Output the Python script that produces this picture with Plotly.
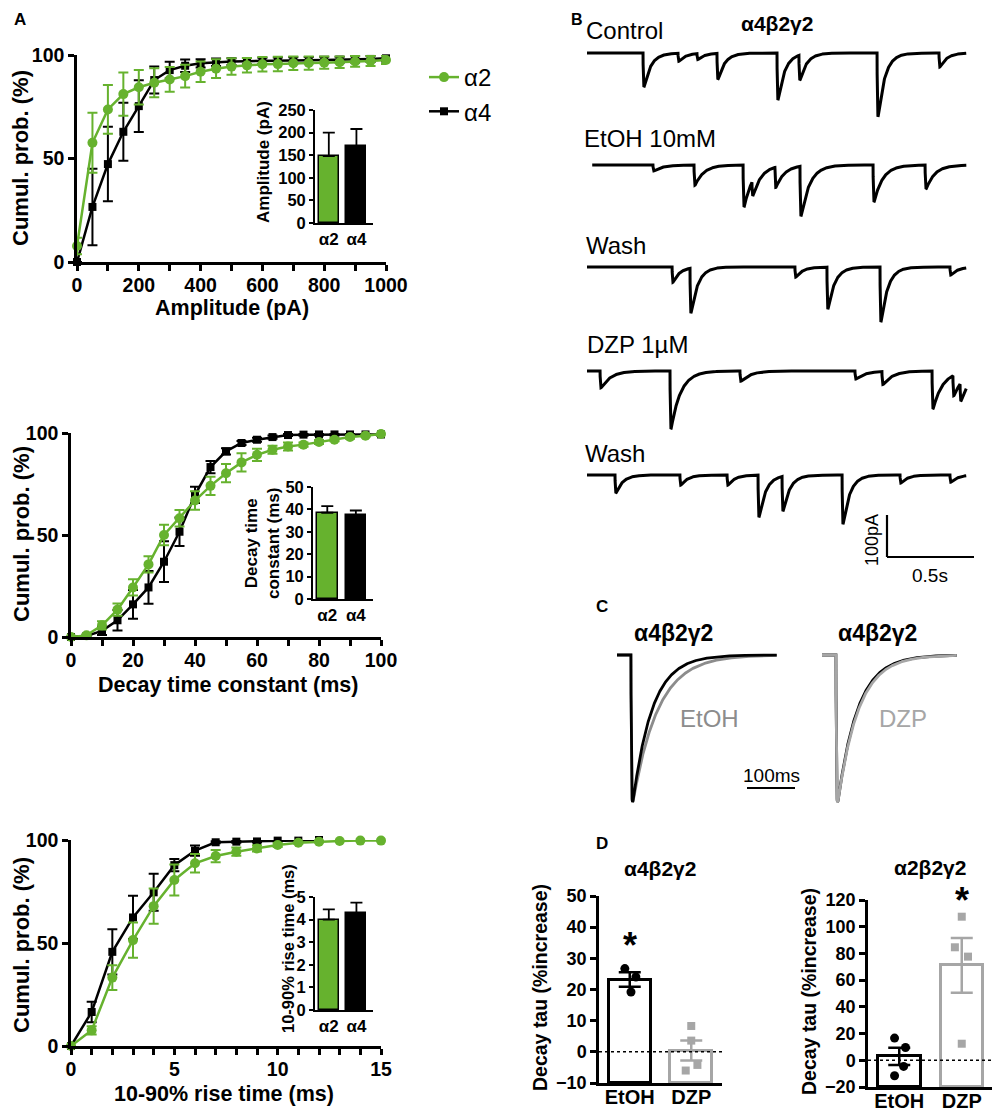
import numpy as np
import plotly.graph_objects as go

W, H = 1000, 1115
SHIFT = 8  # page body offset of the figure
GREEN = "#66b22e"
GRAY_E = "#8c8c8c"
GRAY_D = "#a6a6a6"
FONT = "Liberation Sans"

def px(x):
    return (x - SHIFT) / W

def py(y):
    return 1 - (y - SHIFT) / H

# ---------------- Panel A data ----------------
amp_x = list(range(0, 1001, 50))
amp_a2 = [7.7, 57.6, 73.7, 81.1, 84.4, 86.6, 88.2, 89.8, 91.9, 93.4, 94.4, 95.0, 95.5, 95.6, 96.0, 96.1, 96.3, 96.5, 96.9, 97.1, 97.6]
amp_a2_err = [4, 14.5, 11.8, 10.5, 8.3, 7, 6, 5.5, 5, 4.5, 4, 3.5, 3.5, 3.5, 3.3, 3.2, 3, 2.8, 2.6, 2.4, 2]
amp_a4 = [0, 26.6, 47.3, 62.9, 75.3, 87.9, 92.7, 94.8, 96.0, 96.5, 96.8, 97.0, 97.2, 97.3, 97.4, 97.5, 97.6, 97.7, 97.9, 98.1, 98.4]
amp_a4_err = [0, 18.5, 18, 14, 12.5, 6.5, 4, 3, 2, 1.8, 1.6, 1.5, 1.5, 1.5, 1.5, 1.5, 1.5, 1.5, 1.5, 1.5, 1.5]

dec_x = list(range(0, 101, 5))
dec_a2 = [0, 0.8, 5.7, 13.4, 24.3, 35.6, 50, 58.2, 66.9, 74.1, 80.3, 85.6, 89.3, 91.8, 93.4, 94.3, 95.6, 96.7, 98.0, 98.7, 99.5]
dec_a2_err = [0, 0.5, 2, 3, 4, 4, 5, 4, 4.5, 4.5, 4.5, 4.5, 3, 2, 2, 1, 1, 0.8, 0.8, 0.5, 0.5]
dec_a4 = [0, 0.5, 3, 8.2, 16, 24.3, 36.9, 51.6, 69.7, 83.3, 91, 95.1, 96.7, 98, 99, 99.2, 99.3, 99.3, 99.3, 99.3, 99.3]
dec_a4_err = [0, 0.3, 2, 5, 7, 8, 10, 7, 4, 3, 1.5, 1, 1, 0.8, 0.5, 0.5, 0.5, 0.5, 0.5, 0.5, 0.5]

rise_x_a2 = list(range(0, 16))
rise_a2 = [0, 7.6, 33.2, 51.4, 67.9, 80.6, 88.7, 92.2, 94.3, 95.9, 97.6, 98.7, 99.2, 99.5, 99.7, 99.7]
rise_a2_err = [0, 2, 6, 8.5, 8.5, 7.5, 4.5, 3, 2, 1.5, 1, 0.5, 0.3, 0, 0, 0]
rise_x_a4 = list(range(0, 13))
rise_a4 = [0, 16.5, 45.7, 62.4, 74.6, 87.8, 94.8, 98.9, 99.2, 99.3, 99.7, 99.7, 100]
rise_a4_err = [0, 5, 11, 10.5, 9, 3, 2.5, 0.5, 0.5, 0.5, 0.3, 0.3, 0]

inset_cats = ["α2", "α4"]
inset_amp = [148, 170]
inset_amp_err = [52, 38]
inset_dec = [38.5, 37.5]
inset_dec_err = [3.0, 2.0]
inset_rise = [4.0, 4.3]
inset_rise_err = [0.45, 0.45]

# ---------------- Panel B data (event times s, amplitudes pA) ----------------
b_labels = ["Control", "EtOH 10mM", "Wash", "DZP 1µM", "Wash"]
b_start = [0.0, 0.03, 0.0, 0.0, 0.0]
b_end = 2.18
b_tau = [0.040, 0.050, 0.040, 0.055, 0.040]
b_event_t = [
    [0.322, 0.523, 0.632, 0.747, 1.092, 1.218, 1.667, 2.023],
    [0.379, 0.615, 0.897, 0.948, 1.080, 1.224, 1.644, 1.943],
    [0.489, 0.592, 1.195, 1.379, 1.684, 2.086],
    [0.075, 0.477, 0.879, 1.540, 1.695, 1.983, 2.103, 2.144],
    [0.161, 0.534, 0.805, 0.983, 1.121, 1.466, 1.799, 2.086],
]
b_event_a = [
    [81, 19, 14, 62, 112, 60, 152, 33],
    [14, 48, 100, 36, 48, 119, 88, 57],
    [36, 107, 24, 100, 131, 19],
    [40, 138, 24, 19, 31, 90, 48, 43],
    [43, 24, 24, 100, 83, 117, 19, 17],
]
b_scale_t = 0.5    # s
b_scale_a = 100    # pA

# ---------------- Panel C data (normalised averaged mIPSCs) ----------------
c_len_left = 333   # ms
c_len_right = 281
c_onset = 29       # ms
c_tau_ctrl_left = 40
c_tau_etoh = 52
c_tau_ctrl_right = 41
c_tau_dzp = 43
c_scale_ms = 100

# ---------------- Panel D data ----------------
d_cats = ["EtOH", "DZP"]
dL_mean = [23.2, 0.4]
dL_sem = [2.3, 3.2]
dL_pts_etoh = [26.7, 24.0, 19.2]
dL_jit_etoh = [-0.08, 0.10, 0.02]
dL_pts_dzp = [8.3, 3.6, -4.2, -6.0]
dL_jit_dzp = [0.0, 0.0, 0.10, -0.09]
dR_mean = [2.9, 71.0]
dR_sem = [6.5, 20.5]
dR_pts_etoh = [16.6, 9.6, -4.6, -11.6]
dR_jit_etoh = [-0.075, 0.10, 0.07, -0.075]
dR_pts_dzp = [107.5, 84.6, 77.6, 12.4]
dR_jit_dzp = [0.0, -0.11, 0.10, 0.0]
dL_star = 34
dR_star = 120

# ================= figure =================
fig = go.Figure()
layout = dict(width=W, height=H, margin=dict(l=0, r=0, t=0, b=0, pad=0, autoexpand=False),
              paper_bgcolor="white", plot_bgcolor="rgba(0,0,0,0)",
              font=dict(family=FONT, color="black"), showlegend=True,
              bargap=0)

ann = []
shapes = []


def bold(size):
    return dict(family=FONT, size=size, color="black", weight="bold")


def text(x, y, s, size=20, bold_=False, color="black", xanchor="left", angle=0):
    f = dict(family=FONT, size=size, color=color)
    if bold_:
        f["weight"] = "bold"
    ann.append(dict(x=px(x), y=py(y), xref="paper", yref="paper", text=s, showarrow=False,
                    xanchor=xanchor, yanchor="middle", font=f, textangle=angle))


def ax(dom, rng, lw=2.5, tl=6, fs=19.5, **kw):
    d = dict(domain=dom, range=rng, showgrid=False, zeroline=False, showline=True,
             linecolor="black", linewidth=lw, ticks="outside", ticklen=tl, tickwidth=lw,
             tickcolor="black", tickfont=bold(fs), fixedrange=True, automargin=False)
    d.update(kw)
    return d


def name(kind, i):
    return kind if i == 1 else f"{kind}{i}"


def set_axes(i, xd, yd):
    layout[name("xaxis", i)] = dict(xd, anchor=name("y", i))
    layout[name("yaxis", i)] = dict(yd, anchor=name("x", i))


def cdf_axes(i, xl, xr, yt, yb, xmax, xticks, xlabels):
    xd = ax([px(xl), px(xr)], [0, xmax], tickvals=xticks, ticktext=xlabels, ticklabelstandoff=-2)
    yd = ax([py(yb), py(yt)], [0, 100], tickvals=[0, 50, 100])
    set_axes(i, xd, yd)


def lab(vals, step):
    return [str(v) if v % step == 0 else "" for v in vals]


t1 = list(range(0, 1001, 100))
cdf_axes(1, 77, 386, 55, 262, 1000, t1, lab(t1, 200))
t2 = list(range(0, 101, 10))
cdf_axes(2, 71, 381, 433, 637, 100, t2, lab(t2, 20))
t3 = list(range(0, 16))
cdf_axes(3, 71, 381, 840, 1046, 15, t3, lab(t3, 5))

text(232, 308, "Amplitude (pA)", size=21.5, bold_=True, xanchor="center")
text(228, 685, "Decay time constant (ms)", size=21.5, bold_=True, xanchor="center")
text(224, 1094, "10-90% rise time (ms)", size=21.5, bold_=True, xanchor="center")
for yc in (158, 534, 945):
    text(21, yc, "Cumul. prob. (%)", size=22, bold_=True, xanchor="center", angle=-90)


def inset_axes(i, xl, xr, yt, yb, ymax, ystep):
    xd = ax([px(xl), px(xr)], [-0.5, 1.6], lw=1.8, tl=0, fs=17, tickvals=[0, 1],
            ticktext=inset_cats, ticks="")
    yd = ax([py(yb), py(yt)], [0, ymax], lw=1.8, tl=4, fs=16.5,
            tickvals=list(np.arange(0, ymax + ystep / 2, ystep)))
    set_axes(i, xd, yd)


inset_axes(4, 315, 373, 110, 223, 250, 50)
inset_axes(5, 313, 373, 487, 599, 50, 10)
inset_axes(6, 315, 373, 897, 1010, 5, 1)
text(264, 162, "Amplitude (pA)", size=17, bold_=True, xanchor="center", angle=-90)
text(263, 544, "Decay time<br>constant (ms)", size=17, bold_=True, xanchor="center", angle=-90)
text(288, 949, "10-90% rise time (ms)", size=16.5, bold_=True, xanchor="center", angle=-90)


def cdf_traces(i, x2, y2, e2, x4, y4, e4, legend):
    xa, ya = name("x", i), name("y", i)
    fig.add_trace(go.Scatter(x=x4, y=y4, mode="lines+markers", name="α4", showlegend=legend,
                             line=dict(color="black", width=2.5),
                             marker=dict(symbol="square", size=8, color="black"),
                             error_y=dict(type="data", array=e4, color="black", thickness=2, width=5),
                             xaxis=xa, yaxis=ya, cliponaxis=False))
    fig.add_trace(go.Scatter(x=x2, y=y2, mode="lines+markers", name="α2", showlegend=legend,
                             line=dict(color=GREEN, width=2.5),
                             marker=dict(symbol="circle", size=10, color=GREEN),
                             error_y=dict(type="data", array=e2, color=GREEN, thickness=2, width=5),
                             xaxis=xa, yaxis=ya, cliponaxis=False))


cdf_traces(1, amp_x, amp_a2, amp_a2_err, amp_x, amp_a4, amp_a4_err, True)
cdf_traces(2, dec_x, dec_a2, dec_a2_err, dec_x, dec_a4, dec_a4_err, False)
cdf_traces(3, rise_x_a2, rise_a2, rise_a2_err, rise_x_a4, rise_a4, rise_a4_err, False)


def inset_bars(i, vals, errs):
    fig.add_trace(go.Bar(x=[0, 1], y=vals, width=0.72, showlegend=False,
                         marker=dict(color=[GREEN, "black"], line=dict(color="black", width=1.5)),
                         error_y=dict(type="data", array=errs, arrayminus=[0, 0], symmetric=False,
                                      color="black", thickness=1.8, width=6),
                         xaxis=name("x", i), yaxis=name("y", i)))


inset_bars(4, inset_amp, inset_amp_err)
inset_bars(5, inset_dec, inset_dec_err)
inset_bars(6, inset_rise, inset_rise_err)

layout["legend"] = dict(x=px(424), y=py(55), xanchor="left", yanchor="top",
                        font=dict(family=FONT, size=24, color="black"),
                        bgcolor="rgba(0,0,0,0)", tracegroupgap=0, traceorder="reversed",
                        itemwidth=30)

# ================= Panel B =================
B_PX_PER_S = 174.0
B_PX_PER_PA = 0.42
b_x0px, b_y0px = 587.0, 53.0
b_offsets_px = [53, 165, 267, 371, 475]
bx_rng = [-(b_x0px - 570) / B_PX_PER_S, (1000 - b_x0px) / B_PX_PER_S]
by_rng = [-(600 - b_y0px) / B_PX_PER_PA, (b_y0px - 8) / B_PX_PER_PA]
hidden = dict(visible=False, fixedrange=True, showgrid=False, zeroline=False, automargin=False)
set_axes(7, dict(hidden, domain=[px(570), px(1000)], range=bx_rng),
         dict(hidden, domain=[py(600), py(8)], range=by_rng))


def psc(t, ev_t, ev_a, tau, rise):
    y = np.zeros_like(t)
    s_grid = np.linspace(0, 10 * tau, 4000)
    peak = np.max((1 - np.exp(-s_grid / rise)) * np.exp(-s_grid / tau))
    for te, a in zip(ev_t, ev_a):
        s = t - te
        m = s >= 0
        y[m] -= a / peak * (1 - np.exp(-s[m] / rise)) * np.exp(-s[m] / tau)
    return y


for k in range(5):
    t = np.arange(b_start[k], b_end, 0.0005)
    off = -(b_offsets_px[k] - b_y0px) / B_PX_PER_PA
    y = off + psc(t, b_event_t[k], b_event_a[k], b_tau[k], 0.0015)
    fig.add_trace(go.Scatter(x=t, y=y, mode="lines", showlegend=False,
                             line=dict(color="black", width=3),
                             xaxis="x7", yaxis="y7", hoverinfo="skip"))

sb_x = (887 - b_x0px) / B_PX_PER_S
sb_y = -(557 - b_y0px) / B_PX_PER_PA
shapes.append(dict(type="line", xref="x7", yref="y7", x0=sb_x, x1=sb_x, y0=sb_y, y1=sb_y + b_scale_a,
                   line=dict(color="black", width=2.2)))
shapes.append(dict(type="line", xref="x7", yref="y7", x0=sb_x, x1=sb_x + b_scale_t, y0=sb_y, y1=sb_y,
                   line=dict(color="black", width=2.2)))

b_label_pos = [(584, 30), (582, 139), (584, 245), (585, 345), (583, 453)]
for (lx, ly), s in zip(b_label_pos, b_labels):
    text(lx, ly, s, size=24)
text(777, 23, "α4β2γ2", size=21, bold_=True, xanchor="center")
text(872, 540, "100pA", size=18, xanchor="center", angle=-90)
text(930, 575, "0.5s", size=19, xanchor="center")

# ================= Panel C =================
C_PX_PER_MS = 0.48
C_PX_PER_U = 147.0
c_x0px, c_y0px = 617.0, 655.0
cx_rng = [-(c_x0px - 590) / C_PX_PER_MS, (1000 - c_x0px) / C_PX_PER_MS]
cy_rng = [-(810 - c_y0px) / C_PX_PER_U, (c_y0px - 640) / C_PX_PER_U]
set_axes(8, dict(hidden, domain=[px(590), px(1000)], range=cx_rng),
         dict(hidden, domain=[py(810), py(640)], range=cy_rng))

c_right_start = (822 - c_x0px) / C_PX_PER_MS


def avg_trace(t0, length, tau):
    t = np.arange(0, length, 0.25)
    y = psc(t, [c_onset], [1.0], tau, 0.9)
    return t0 + t, y


for t0, L, tau, col in [(0, c_len_left, c_tau_etoh, GRAY_E), (0, c_len_left, c_tau_ctrl_left, "black"),
                        (c_right_start, c_len_right, c_tau_ctrl_right, "black"),
                        (c_right_start, c_len_right, c_tau_dzp, GRAY_D)]:
    tx, ty = avg_trace(t0, L, tau)
    fig.add_trace(go.Scatter(x=tx, y=ty, mode="lines", showlegend=False,
                             line=dict(color=col, width=2.8), xaxis="x8", yaxis="y8",
                             hoverinfo="skip"))

csb_x = (747 - c_x0px) / C_PX_PER_MS
csb_y = -(788 - c_y0px) / C_PX_PER_U
shapes.append(dict(type="line", xref="x8", yref="y8", x0=csb_x, x1=csb_x + c_scale_ms, y0=csb_y, y1=csb_y,
                   line=dict(color="black", width=2.2)))
text(771, 775, "100ms", size=19, xanchor="center")
text(673, 633, "α4β2γ2", size=23, bold_=True, xanchor="center")
text(877, 633, "α4β2γ2", size=23, bold_=True, xanchor="center")
text(709, 718, "EtOH", size=24, color=GRAY_E, xanchor="center")
text(903, 718, "DZP", size=24, color=GRAY_D, xanchor="center")

# ================= Panel D =================
def d_axes(i, xl, xr, yt, yb, ymin, ymax, step):
    xd = ax([px(xl), px(xr)], [-0.5, 1.5], lw=2.5, tl=0, fs=20, ticks="",
            tickvals=[0, 1], ticktext=d_cats, ticklabelstandoff=-6)
    yd = ax([py(yb), py(yt)], [ymin, ymax], lw=2.5, tl=6, fs=18,
            tickvals=list(range(ymin, ymax + 1, step)))
    set_axes(i, xd, yd)


d_axes(9, 599, 722, 896, 1083, -10, 50, 10)
d_axes(10, 868, 993, 900, 1087, -20, 120, 20)
text(540, 988, "Decay tau (%increase)", size=19.5, bold_=True, xanchor="center", angle=-90)
text(809, 992, "Decay tau (%increase)", size=19.5, bold_=True, xanchor="center", angle=-90)


def d_panel(i, means, sems, pe, je, pd_, jd, base):
    xa, ya = name("x", i), name("y", i)
    for k, col in enumerate(["black", GRAY_D]):
        fig.add_trace(go.Bar(x=[k], y=[means[k] - base], base=base, width=0.68, showlegend=False,
                             marker=dict(color="white", line=dict(color=col, width=3)),
                             xaxis=xa, yaxis=ya))
    fig.add_trace(go.Scatter(x=[0 + j for j in je], y=pe, mode="markers", showlegend=False,
                             marker=dict(symbol="circle", size=9, color="black"),
                             xaxis=xa, yaxis=ya, cliponaxis=False))
    fig.add_trace(go.Scatter(x=[1 + j for j in jd], y=pd_, mode="markers", showlegend=False,
                             marker=dict(symbol="square", size=8, color=GRAY_D),
                             xaxis=xa, yaxis=ya, cliponaxis=False))
    for k, col in enumerate(["black", GRAY_D]):
        fig.add_trace(go.Scatter(x=[k], y=[means[k]], mode="markers", showlegend=False,
                                 marker=dict(size=1, color="rgba(0,0,0,0)"),
                                 error_y=dict(type="data", array=[sems[k]], color=col, thickness=2.5, width=11),
                                 xaxis=xa, yaxis=ya, cliponaxis=False))
    shapes.append(dict(type="line", xref=xa, yref=ya, x0=-0.5, x1=1.5, y0=0, y1=0, layer="above",
                       line=dict(color="black", width=1.5, dash="dot")))


d_panel(9, dL_mean, dL_sem, dL_pts_etoh, dL_jit_etoh, dL_pts_dzp, dL_jit_dzp, -10)
d_panel(10, dR_mean, dR_sem, dR_pts_etoh, dR_jit_etoh, dR_pts_dzp, dR_jit_dzp, -20)

ann.append(dict(x=0, y=dL_star, xref="x9", yref="y9", text="*", showarrow=False,
                font=bold(36), yanchor="middle"))
ann.append(dict(x=1, y=dR_star, xref="x10", yref="y10", text="*", showarrow=False,
                font=bold(36), yanchor="middle"))
text(660, 868, "α4β2γ2", size=21, bold_=True, xanchor="center")
text(930, 867, "α2β2γ2", size=21, bold_=True, xanchor="center")

# panel letters
for s, (lx, ly), sz in zip(["A", "B", "C", "D"], [(12, 19), (569, 19), (594, 606), (594, 843)],
                           [17, 16, 17, 17]):
    text(lx, ly, s, size=sz, bold_=True)

layout["shapes"] = shapes
layout["annotations"] = ann
fig.update_layout(**layout)
fig.write_html("out.html")
